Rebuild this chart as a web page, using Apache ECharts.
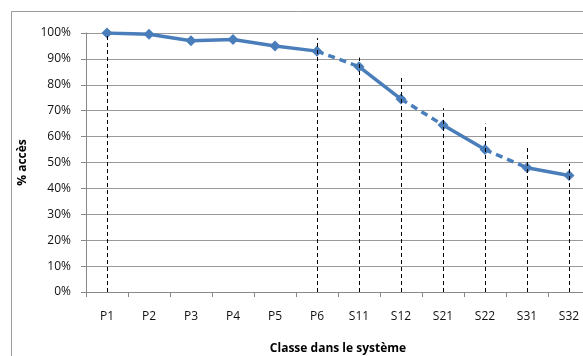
<!DOCTYPE html>
<html>
<head>
<meta charset="utf-8">
<script src="https://cdn.jsdelivr.net/npm/echarts@6/dist/echarts.min.js"></script>
<style>
  html, body { margin: 0; padding: 0; background: #fff; }
  #chart { width: 583px; height: 356px; }
</style>
</head>
<body>
<div id="chart"></div>
<script>
// données
const categories = ['P1', 'P2', 'P3', 'P4', 'P5', 'P6', 'S11', 'S12', 'S21', 'S22', 'S31', 'S32'];
const accessValues = [100, 99.5, 97, 97.5, 95, 93, 87, 74.5, 64.5, 55, 48, 45];
// haut des lignes verticales pointillées (null = pas de ligne)
const dropTops = [100, null, null, null, null, 98, 90.5, 83, 71, 65, 56.5, 49.5];
// segments [début, fin] : trait plein ou pointillé
const solidSegments = [[0, 5], [6, 7], [8, 9], [10, 11]];
const dashedSegments = [[5, 6], [7, 8], [9, 10]];
const yTicks = [0, 10, 20, 30, 40, 50, 60, 70, 80, 90, 100];

const blue = '#4a7ebb';
const font = 'Open Sans, Liberation Sans, Arial, sans-serif';

function segmentData(seg) {
  return accessValues.map((v, i) => (i >= seg[0] && i <= seg[1]) ? v : null);
}

const series = [];
dashedSegments.forEach(seg => {
  series.push({
    type: 'line',
    data: segmentData(seg),
    symbol: 'none',
    lineStyle: { color: blue, width: 3.5, type: [7, 5] },
    z: 3
  });
});
solidSegments.forEach(seg => {
  series.push({
    type: 'line',
    data: segmentData(seg),
    symbol: 'diamond',
    symbolSize: 11,
    lineStyle: { color: blue, width: 3.5 },
    itemStyle: { color: blue },
    z: 4
  });
});

// lignes de projection verticales
series.push({
  type: 'line',
  data: [],
  markLine: {
    silent: true,
    symbol: 'none',
    label: { show: false },
    lineStyle: { color: '#000', width: 1, type: [4, 3] },
    data: dropTops
      .map((t, i) => t == null ? null : [
        { xAxis: categories[i], yAxis: 0 },
        { xAxis: categories[i], yAxis: t }
      ])
      .filter(d => d)
  },
  z: 2
});

const chart = echarts.init(document.getElementById('chart'));
chart.setOption({
  animation: false,
  graphic: [{
    type: 'rect',
    shape: { x: 11.5, y: 11.5, width: 600, height: 400 },
    style: { fill: 'none', stroke: '#9a9a9a', lineWidth: 1 },
    silent: true
  }],
  grid: { left: 86, top: 33, width: 504, height: 259, outerBoundsMode: 'none', containLabel: false },
  xAxis: {
    type: 'category',
    data: categories,
    boundaryGap: true,
    name: 'Classe dans le système',
    nameLocation: 'middle',
    nameGap: 51,
    nameTextStyle: { fontFamily: font, fontSize: 12, fontWeight: 'bold', color: '#000' },
    axisLine: { lineStyle: { color: '#888', width: 1 } },
    axisTick: { show: true, length: 5, lineStyle: { color: '#888' } },
    axisLabel: { fontFamily: font, fontSize: 12, color: '#111', margin: 19 },
    splitLine: { show: false }
  },
  yAxis: {
    type: 'value',
    min: 0,
    max: 100,
    interval: 10,
    name: '% accès',
    nameLocation: 'middle',
    nameGap: 57,
    nameRotate: 90,
    nameTextStyle: { fontFamily: font, fontSize: 12, fontWeight: 'bold', color: '#000' },
    axisLine: { show: true, lineStyle: { color: '#888', width: 1 } },
    axisTick: { show: true, length: 5, lineStyle: { color: '#888' } },
    axisLabel: {
      fontFamily: font, fontSize: 12, color: '#111', margin: 15,
      formatter: v => yTicks.includes(v) ? v + '%' : ''
    },
    splitLine: { show: true, lineStyle: { color: '#9a9a9a', width: 1 } }
  },
  series: series
});
</script>
</body>
</html>
